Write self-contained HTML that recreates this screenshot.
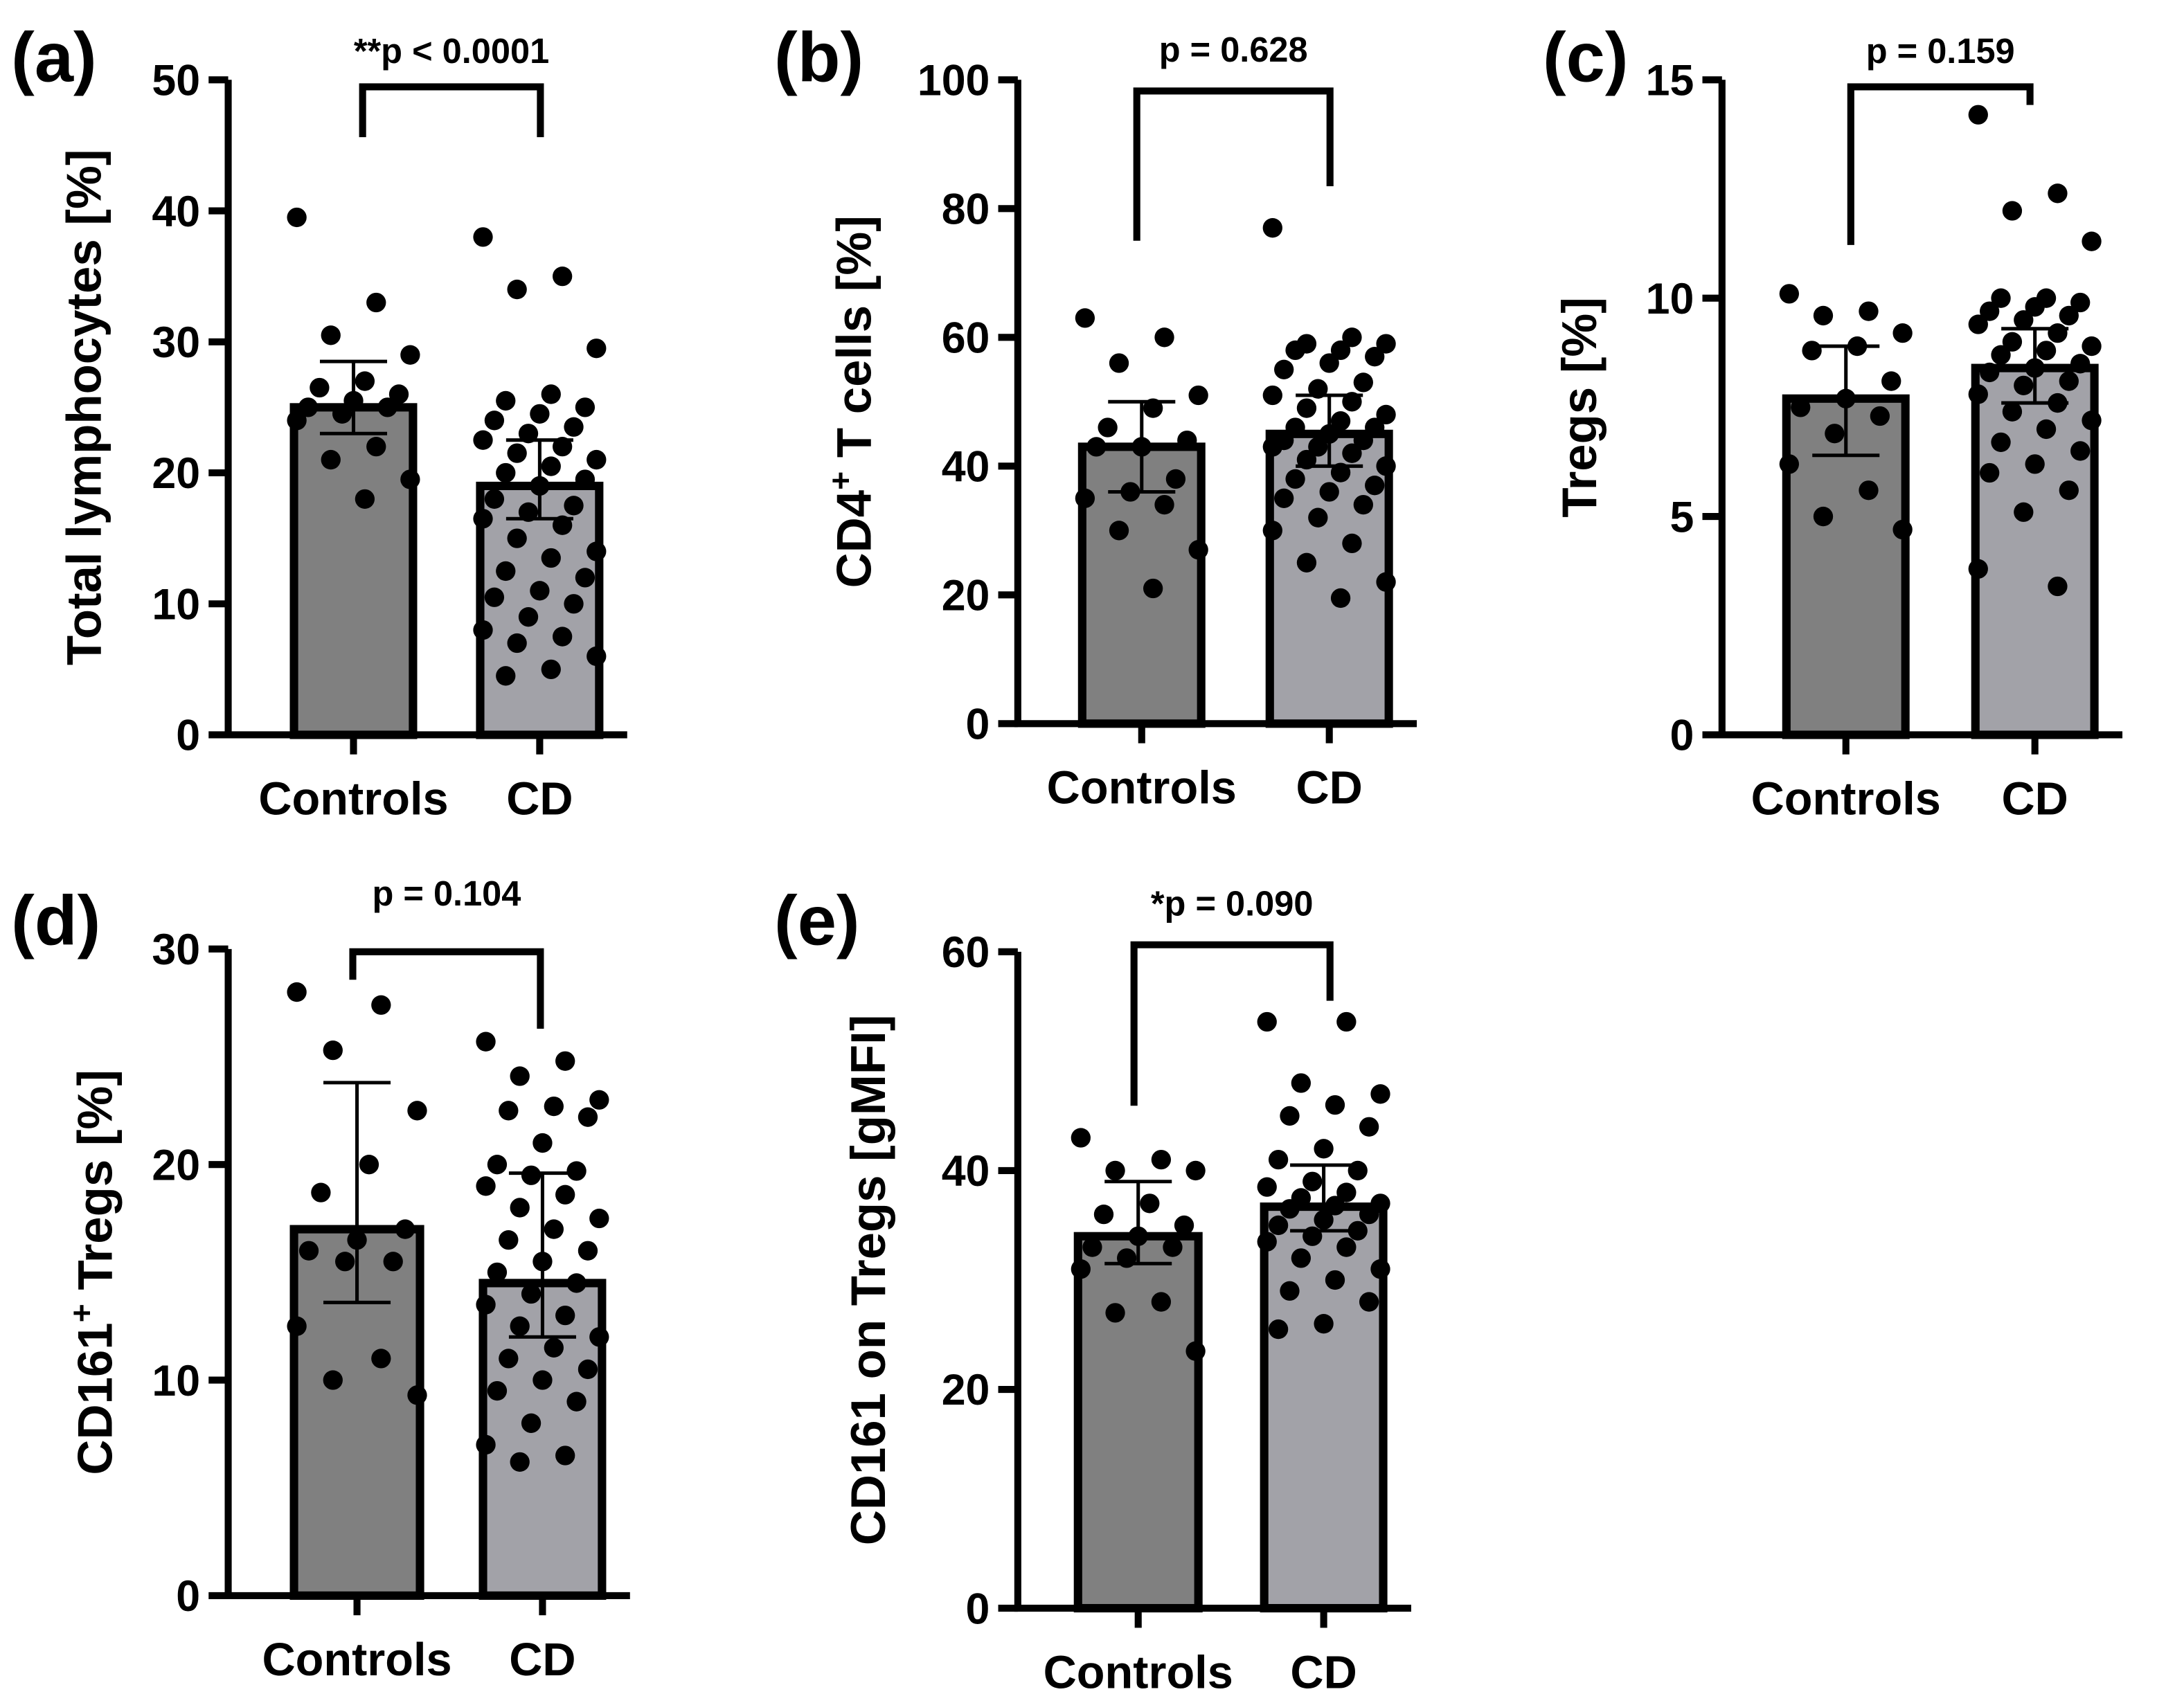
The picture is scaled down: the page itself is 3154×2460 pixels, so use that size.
<!DOCTYPE html>
<html><head><meta charset="utf-8"><style>
html,body{margin:0;padding:0;background:#fff}
svg{display:block}
text{font-family:"Liberation Sans",Arial,sans-serif;font-weight:bold;fill:#000}
</style></head><body>
<svg id="fig" width="3154" height="2460" viewBox="0 0 1560 1216.7" xmlns="http://www.w3.org/2000/svg"></svg>
<script>
const categories=["Controls","CD"];
const aCtrl=[39.5,33,30.5,29,27,26.5,26,25.5,25,25,24.5,24,22,21,19.5,18];
const aCD=[38,35,34,29.5,26,25.5,25,24.5,24,23.5,23,22.5,22,21.5,21,20.5,20,19.5,19,18,17.5,17,16.5,16,15,14,13.5,12.5,12,11,10.5,10,9,8,7.5,7,6,5,4.5];
const aMeans=[25,19];const aErr=[[23,28.5],[16.5,22.5]];const aTicks=[0,10,20,30,40,50];
const bCtrl=[63,60,56,51,49,46,44,43,43,38,36,35,34,30,27,21];
const bCD=[77,60,59,59,58,58,57,56,55,53,52,51,50,49,48,47,46,46,45,44,44,43,43,42,41,40,39,38,37,36,35,34,32,30,28,25,22,19.5];
const bMeans=[43,45];const bErr=[[36,50],[40,51]];const bTicks=[0,20,40,60,80,100];
const cCtrl=[10.1,9.7,9.6,9.2,8.9,8.8,8.1,7.7,7.5,7.3,6.9,6.2,5.6,5.0,4.7];
const cCD=[14.2,12.4,12.0,11.3,10.0,10.0,9.9,9.8,9.7,9.6,9.5,9.4,9.2,9.0,8.9,8.8,8.7,8.5,8.4,8.3,8.1,8.0,7.8,7.6,7.4,7.2,7.0,6.7,6.5,6.2,6.0,5.6,5.1,3.8,3.4];
const cMeans=[7.7,8.4];const cErr=[[6.4,8.9],[7.6,9.3]];const cTicks=[0,5,10,15];
const dCtrl=[28,27.4,25.3,22.5,20,18.7,17,16.5,16,15.5,15.5,12.5,11,10,9.3];
const dCD=[25.7,24.8,24.1,23,22.7,22.5,22.2,21,20,19.7,19.5,19,18.6,18,17.5,17,16.5,16,15.5,15,14.5,14,13.5,13,12.5,12,11.5,11,10.5,10,9.5,9,8,7,6.5,6.2];
const dMeans=[17,14.5];const dErr=[[13.6,23.8],[12,19.6]];const dTicks=[0,10,20,30];
const eCtrl=[43,41,40,40,37,36,35,34,33,33,32,31,28,27,23.5];
const eCD=[53.6,53.6,48,47,46,45,44,42,41,40,39,38.5,38,37.5,37,36.8,36.5,36,35.5,35,34.5,34,33.5,33,32,31,30,29,28,26,25.5];
const eMeans=[34,36.7];const eErr=[[31.5,39],[34.5,40.5]];const eTicks=[0,20,40,60];

const NS="http://www.w3.org/2000/svg";const svg=document.getElementById('fig');
function mk(tag,attrs,parent,txt){const e=document.createElementNS(NS,tag);for(const k in attrs)e.setAttribute(k,attrs[k]);if(txt!==undefined)e.textContent=txt;(parent||svg).appendChild(e);return e;}

const panels=[
 {id:'a',label:'(a)',lx:8,ly:58,ax:163,y0:525,y1:57,max:50,ticks:aTicks,bars:[[210,295],[343,428]],means:aMeans,err:aErr,pts:[aCtrl,aCD],title:'Total lymphocytes [%]',sup:null,tx:72,p:'**p < 0.0001',py:45,br:[259,386,62,98,98]},
 {id:'b',label:'(b)',lx:553,ly:58,ax:727,y0:517,y1:57,max:100,ticks:bTicks,bars:[[773,858],[907,992]],means:bMeans,err:bErr,pts:[bCtrl,bCD],title:'CD4',sup:' T cells [%]',tx:622,p:'p = 0.628',py:44,br:[812,950,65,172,133]},
 {id:'c',label:'(c)',lx:1102,ly:58,ax:1230,y0:525,y1:57,max:15,ticks:cTicks,bars:[[1276,1361],[1411,1496]],means:cMeans,err:cErr,pts:[cCtrl,cCD],title:'Tregs [%]',sup:null,tx:1140,p:'p = 0.159',py:45,br:[1322,1450,62,175,75]},
 {id:'d',label:'(d)',lx:8,ly:675,ax:163,y0:1140,y1:678,max:30,ticks:dTicks,bars:[[210,300],[345,430]],means:dMeans,err:dErr,pts:[dCtrl,dCD],title:'CD161',sup:' Tregs [%]',tx:80,p:'p = 0.104',py:647,br:[252,386,680,700,735]},
 {id:'e',label:'(e)',lx:553,ly:675,ax:727,y0:1149,y1:680,max:60,ticks:eTicks,bars:[[770,856],[903,988]],means:eMeans,err:eErr,pts:[eCtrl,eCD],title:'CD161 on Tregs [gMFI]',sup:null,tx:632,p:'*p = 0.090',py:654,br:[810,950,675,790,715]}
];

panels.forEach(P=>{
 const g=mk('g',{});
 
 
 const y=v=>P.y0-(v/P.max)*(P.y0-P.y1);
 const lab=mk('text',{x:P.lx,y:P.ly,'font-size':50},g,P.label);
 
 
 P.bars.forEach((b,i)=>{
  const r=mk('rect',{x:b[0],y:y(P.means[i]),width:b[1]-b[0],height:P.y0-y(P.means[i]),fill:i?'#a2a2a8':'#808080',stroke:'#000','stroke-width':6},g);
  
  
 });
 P.bars.forEach((b,i)=>{
  const cx=(b[0]+b[1])/2;const half=(b[1]-b[0])/2-2;
  P.pts[i].forEach((v,k)=>{
   const off=(((k*7)%11)-5)/5*half;
   const c=mk('circle',{cx:cx+off,cy:y(v),r:7,fill:'#000'},g);
   
   
  });
 });
 P.bars.forEach((b,i)=>{
  const cx=(b[0]+b[1])/2;const e=P.err[i];
  const eg=mk('g',{stroke:'#000','stroke-width':2.5},g);
  
  
  mk('line',{x1:cx,x2:cx,y1:y(e[0]),y2:y(e[1])},eg);
  mk('line',{x1:cx-24,x2:cx+24,y1:y(e[0]),y2:y(e[0])},eg);
  mk('line',{x1:cx-24,x2:cx+24,y1:y(e[1]),y2:y(e[1])},eg);
 });
 const axg=mk('g',{stroke:'#000','stroke-width':5,fill:'none'},g);
 
 
 const xEnd=P.bars[1][1]+20;
 mk('path',{d:`M${P.ax},${P.y1} V${P.y0} H${xEnd}`},axg);
 P.ticks.forEach(t=>{
  mk('line',{x1:P.ax-14,x2:P.ax,y1:y(t),y2:y(t)},axg);
  const tl=mk('text',{x:P.ax-20,y:y(t)+11,'font-size':31,'text-anchor':'end',stroke:'none'},g,String(t));
  
  
 });
 P.bars.forEach((b,i)=>{
  const cx=(b[0]+b[1])/2;
  mk('line',{x1:cx,x2:cx,y1:P.y0,y2:P.y0+14},axg);
  const xl=mk('text',{x:cx,y:P.y0+57,'font-size':33,'text-anchor':'middle'},g,categories[i]);
  
  
 });
 const cy=(P.y0+P.y1)/2;
 const yt=mk('text',{x:0,y:0,'font-size':35,'text-anchor':'middle',transform:`translate(${P.tx},${cy}) rotate(-90)`},g);
 
 
 yt.appendChild(document.createTextNode(P.title));
 if(P.sup){mk('tspan',{'font-size':23,dy:-14},yt,'+');mk('tspan',{dy:14},yt,P.sup);}
 const br=mk('path',{d:`M${P.br[0]},${P.br[3]} V${P.br[2]} H${P.br[1]} V${P.br[4]}`,stroke:'#000','stroke-width':5,fill:'none'},g);
 
 
 const pt=mk('text',{x:(P.br[0]+P.br[1])/2,y:P.py,'font-size':25,'text-anchor':'middle'},g,P.p);
 
 
});
</script>
</body></html>
